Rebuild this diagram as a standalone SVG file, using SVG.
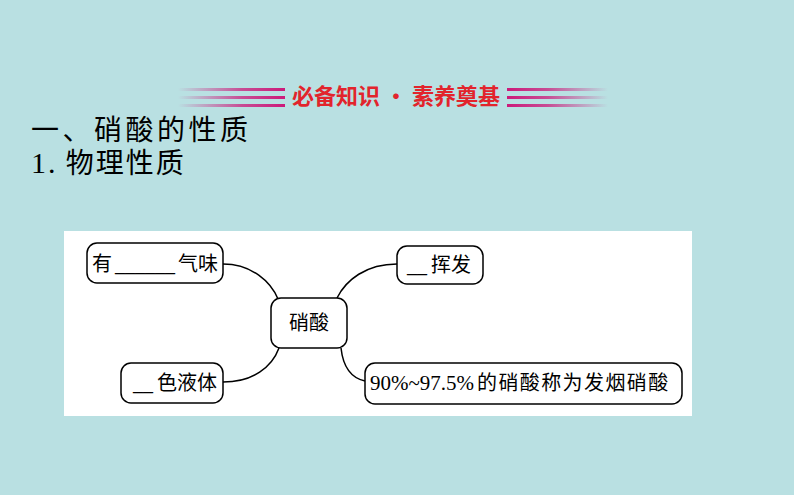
<svg xmlns="http://www.w3.org/2000/svg" width="794" height="495" viewBox="0 0 794 495">
<defs>
<linearGradient id="gl" x1="0" y1="0" x2="1" y2="0"><stop offset="0" stop-color="#cc1a7a" stop-opacity="0"/><stop offset="0.6" stop-color="#cc1a7a" stop-opacity="0.75"/><stop offset="1" stop-color="#cc1a7a"/></linearGradient>
<linearGradient id="gr" x1="0" y1="0" x2="1" y2="0"><stop offset="0" stop-color="#cc1a7a"/><stop offset="0.4" stop-color="#cc1a7a" stop-opacity="0.75"/><stop offset="1" stop-color="#cc1a7a" stop-opacity="0"/></linearGradient>
<style>
.node{fill:#fff;stroke:#000;stroke-width:1.5}
.t{font-family:"Noto Sans CJK SC","Noto Sans",sans-serif;font-size:20px;fill:#000}
.s{font-family:"Liberation Serif","Noto Sans CJK SC",serif}
.h{font-family:"Noto Sans CJK SC",sans-serif;font-size:28px;fill:#000}
.c{fill:none;stroke:#000;stroke-width:1.5}
</style>
</defs>
<rect width="794" height="495" fill="#b9e0e2"/>
<g id="banner">
<rect x="178" y="88" width="107" height="3" fill="url(#gl)"/>
<rect x="178" y="96" width="107" height="3" fill="url(#gl)"/>
<rect x="178" y="104" width="107" height="3" fill="url(#gl)"/>
<rect x="507" y="88" width="101" height="3" fill="url(#gr)"/>
<rect x="507" y="96" width="101" height="3" fill="url(#gr)"/>
<rect x="507" y="104" width="101" height="3" fill="url(#gr)"/>
<text x="396" y="104" text-anchor="middle" font-family="Noto Sans CJK SC,sans-serif" font-size="22" font-weight="bold" fill="#e2242c">必备知识 · 素养奠基</text>
</g>
<text class="h" x="31" y="140" letter-spacing="3.5">一、硝酸的性质</text>
<text class="h" x="31" y="173" letter-spacing="2"><tspan class="s" font-size="30">1.</tspan> 物理性质</text>
<rect x="64" y="231" width="628" height="185" fill="#fff"/>
<g id="connectors">
<path class="c" d="M223,264 C252,264 271,282 278,299"/>
<path class="c" d="M223,382 C253,382 272,367 279,348"/>
<path class="c" d="M397,264 C366,264 346,280 337,298"/>
<path class="c" d="M341,348 C343,366 351,378 365,381"/>
</g>
<g id="n-center">
<rect class="node" x="271" y="298" width="76" height="50" rx="10"/>
<text class="t" x="309" y="330" text-anchor="middle" font-size="21">硝酸</text>
</g>
<g id="n-smell">
<rect class="node" x="87" y="243" width="136" height="40" rx="10"/>
<text class="t" y="271"><tspan x="92">有</tspan><tspan class="s" x="115">______</tspan><tspan x="178">气味</tspan></text>
</g>
<g id="n-color">
<rect class="node" x="121" y="363" width="102" height="40" rx="10"/>
<text class="t" y="390"><tspan class="s" x="133">__</tspan><tspan x="157">色液体</tspan></text>
</g>
<g id="n-volatile">
<rect class="node" x="397" y="246" width="86" height="38" rx="10"/>
<text class="t" y="272"><tspan class="s" x="407">__</tspan><tspan x="431">挥发</tspan></text>
</g>
<g id="n-fuming">
<rect class="node" x="365" y="363" width="317" height="41" rx="10"/>
<text class="t" y="390" x="370"><tspan class="s" font-size="21">90%~97.5%</tspan><tspan x="477" letter-spacing="1.4">的硝酸称为发烟硝酸</tspan></text>
</g>
</svg>
